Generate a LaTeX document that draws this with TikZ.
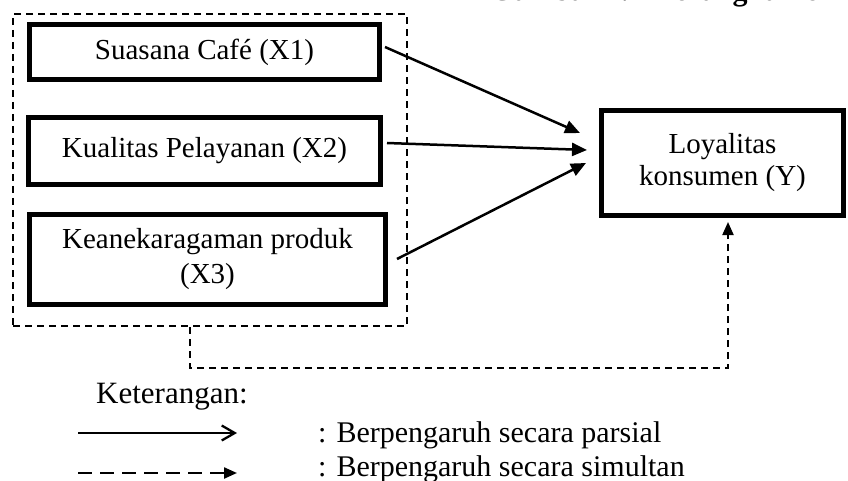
\documentclass[tikz,border=0pt]{standalone}
\usepackage{fontspec}
\setmainfont{Liberation Serif}
\usetikzlibrary{arrows.meta,calc}
\begin{document}
\begin{tikzpicture}[x=1pt,y=-1pt,
  varbox/.style={draw, line width=5pt, inner sep=0pt, align=center,
    font=\fontsize{29}{35}\selectfont},
  grpbox/.style={draw, line width=2pt, dash pattern=on 7pt off 5pt, inner sep=0pt},
  parr/.style={line width=2.5pt, -{Triangle[length=15pt,width=13pt]}},
  sarr/.style={line width=2pt, dash pattern=on 7pt off 5pt, -{Triangle[length=13pt,width=11pt]}},
  legtxt/.style={anchor=base west, inner sep=0pt, font=\fontsize{30}{36}\selectfont},
]
\useasboundingbox (0,0) rectangle (848,481);
\node[anchor=base west, inner sep=0pt, font=\bfseries\fontsize{30}{36}\selectfont] (title) at (490,0.5) {Gambar 2.1 Kerangka Pemikiran};

\node[grpbox, minimum width=394pt, minimum height=312pt] (grp) at (210,170) {};
\node[varbox, minimum width=350pt, minimum height=55pt] (x1) at (204.5,52) {Suasana Café (X1)};
\node[varbox, minimum width=352pt, minimum height=67pt] (x2) at (204.5,151) {Kualitas Pelayanan (X2)};
\node[varbox, minimum width=356pt, minimum height=90pt] (x3) at (207.5,259.5) {Keanekaragaman produk\\(X3)};
\node[varbox, minimum width=242pt, minimum height=105pt, font=\fontsize{29}{32}\selectfont] (y) at (722.5,163) {Loyalitas\\konsumen (Y)};

\draw[parr] ($(x1.east)+(3,-5)$) -- ($(y.west)+(-19,-30)$);
\draw[parr] ($(x2.east)+(4,-8)$) -- ($(y.west)+(-12,-13)$);
\draw[parr] ($(x3.east)+(9,-0.5)$) -- ($(y.west)+(-13,0)$);
\draw[sarr] ($(grp.south)+(-20,0)$) -- ++(0,41) -| ($(y.south)+(5.5,4)$);

\node[legtxt, font=\fontsize{31}{36}\selectfont] (ket) at (96,403) {Keterangan:};
\coordinate (l1a) at (78,433);
\coordinate (l1b) at (237,433);
\draw[line width=2.3pt, -{Straight Barb[length=13pt,width=15pt]}] (l1a) -- (l1b);
\coordinate (l2a) at (78,473);
\coordinate (l2b) at (237,473);
\draw[line width=2.3pt, dash pattern=on 14pt off 8pt, -{Triangle[length=13pt,width=11pt]}] (l2a) -- (l2b);
\node[legtxt] (d1) at (318,442) {: Berpengaruh secara parsial};
\node[legtxt] (d2) at (318,476) {: Berpengaruh secara simultan};
\end{tikzpicture}
\end{document}
